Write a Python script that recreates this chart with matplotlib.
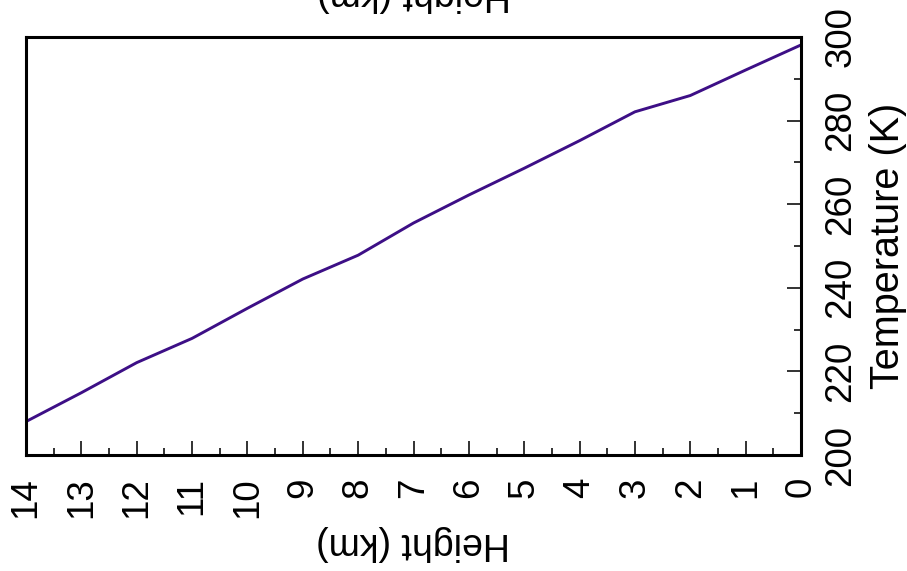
import numpy as np
import matplotlib.pyplot as plt
from matplotlib.ticker import MultipleLocator

# sounding
height = [0, 1, 2, 3, 4, 5, 6, 7, 8, 9, 10, 11, 12, 13, 14]
temperature = [298.1, 292.1, 286.0, 282.1, 275.2, 268.6, 262.2, 255.5,
               247.8, 242.1, 235.1, 227.9, 222.1, 214.9, 208.0]

plt.rcParams['font.family'] = ['Liberation Sans', 'DejaVu Sans']

fig = plt.figure(figsize=(9.07, 5.71), dpi=100, facecolor='white')
ax = fig.add_axes([26 / 907, 1 - 455 / 571, (801 - 26) / 907, (455 - 37) / 571])

ax.plot(height, temperature, color='#3d0f86', lw=2.1)

ax.set_xlim(14, 0)
ax.set_ylim(200, 300)

ax.xaxis.set_major_locator(MultipleLocator(1))
ax.xaxis.set_minor_locator(MultipleLocator(0.5))
ax.yaxis.set_major_locator(MultipleLocator(20))
ax.yaxis.set_minor_locator(MultipleLocator(10))

ax.yaxis.tick_right()
ax.yaxis.set_label_position('right')

ax.tick_params(which='both', direction='in', width=1.3, color='#222222',
               top=False, left=False)
ax.tick_params(which='major', length=10, labelsize=26.5, pad=16)
ax.tick_params(which='minor', length=5)
for lab in ax.get_xticklabels() + ax.get_yticklabels():
    lab.set_rotation(90)
for lab in ax.get_yticklabels():
    lab.set_verticalalignment('center')
    lab.set_horizontalalignment('left')

for s in ax.spines.values():
    s.set_linewidth(2.2)

ax.set_xlabel('Height (km)', fontsize=27, rotation=180, labelpad=5)
ax.set_ylabel('Temperature (K)', fontsize=28.5, rotation=90, labelpad=7.5)

# mirrored label at the top, cut by the edge
fig.text(0.456, 0.979, 'Height (km)', fontsize=27, rotation=180,
         ha='center', va='bottom')

fig.savefig('out.png', dpi=100)
